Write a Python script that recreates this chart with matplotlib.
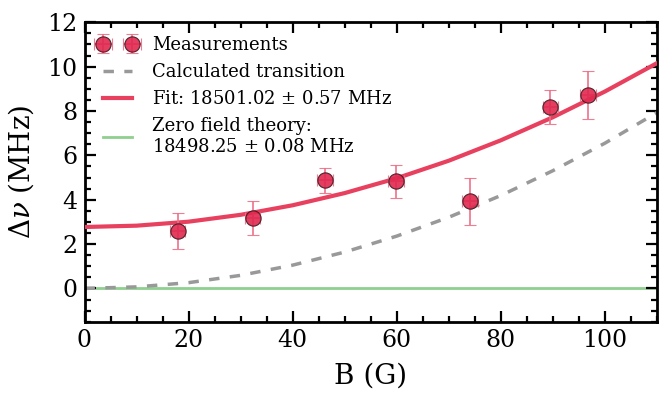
import matplotlib
matplotlib.use("Agg")
import matplotlib.pyplot as plt
from matplotlib.ticker import MultipleLocator

plt.rcParams['font.family'] = ['DejaVu Serif']
plt.rcParams['mathtext.fontset'] = 'dejavuserif'

# Measurements
B_meas = [17.9, 32.3, 46.2, 59.9, 74.1, 89.5, 96.8]
dnu_meas = [2.57, 3.16, 4.88, 4.83, 3.92, 8.19, 8.72]
dnu_err = [0.81, 0.77, 0.57, 0.75, 1.06, 0.77, 1.08]
B_err = [1.5, 1.5, 1.5, 1.5, 1.5, 1.5, 1.5]

# Curves
B_curve = [0, 10, 20, 30, 40, 50, 60, 70, 80, 90, 100, 110]
fit_curve = [2.77, 2.83, 3.01, 3.32, 3.75, 4.30, 4.97, 5.76, 6.68, 7.72, 8.88, 10.16]
calc_curve = [0.0, 0.07, 0.26, 0.59, 1.05, 1.64, 2.36, 3.21, 4.19, 5.31, 6.55, 7.93]
zero_B = [0, 110]
zero_val = [0, 0]

labels = ["Measurements", "Calculated transition",
          "Fit: 18501.02 $\\pm$ 0.57 MHz",
          "Zero field theory:\n18498.25 $\\pm$ 0.08 MHz"]

fig = plt.figure(figsize=(6.67, 3.99), dpi=100)
ax = fig.add_axes([84.5/667, 1-321.7/399, (657-84.5)/667, (321.7-22.3)/399])

red = '#e0284f'
ax.plot(zero_B, zero_val, color='#8fcf8f', lw=2, label=labels[3], zorder=1)
ax.plot(B_curve, calc_curve, color='#999999', lw=2.5, ls=(0, (3, 3)), label=labels[1], zorder=2)
ax.plot(B_curve, fit_curve, color='#e8415f', lw=3, label=labels[2], zorder=3)
ax.errorbar(B_meas, dnu_meas, yerr=dnu_err, xerr=B_err, fmt='o', ms=11,
            mfc=red, mec='#3a1a20', mew=0.8, ecolor='#ee6f88', elinewidth=1.3,
            capsize=4, capthick=1.3, alpha=0.9, label=labels[0], zorder=4)

ax.set_xlim(0, 110)
ax.set_ylim(-1.5, 12)
ax.xaxis.set_major_locator(MultipleLocator(20))
ax.xaxis.set_minor_locator(MultipleLocator(5))
ax.yaxis.set_major_locator(MultipleLocator(2))
ax.yaxis.set_minor_locator(MultipleLocator(0.5))
ax.tick_params(which='both', direction='in', top=True, right=True, labelsize=17, width=1.6)
ax.tick_params(which='major', length=8, pad=5)
ax.tick_params(which='minor', length=4.5)
for s in ax.spines.values():
    s.set_linewidth(2)

ax.set_xlabel('B (G)', fontsize=20, labelpad=8)
ax.set_ylabel(r'$\Delta\nu$ (MHz)', fontsize=20, labelpad=8)

h, l = ax.get_legend_handles_labels()
order = [l.index(x) for x in labels]
ax.legend([h[i] for i in order], [l[i] for i in order], loc='upper left',
          frameon=False, fontsize=13, numpoints=2, handlelength=2.2,
          borderaxespad=0.35, labelspacing=0.5, handletextpad=0.8)

fig.savefig('out.png', dpi=100)
